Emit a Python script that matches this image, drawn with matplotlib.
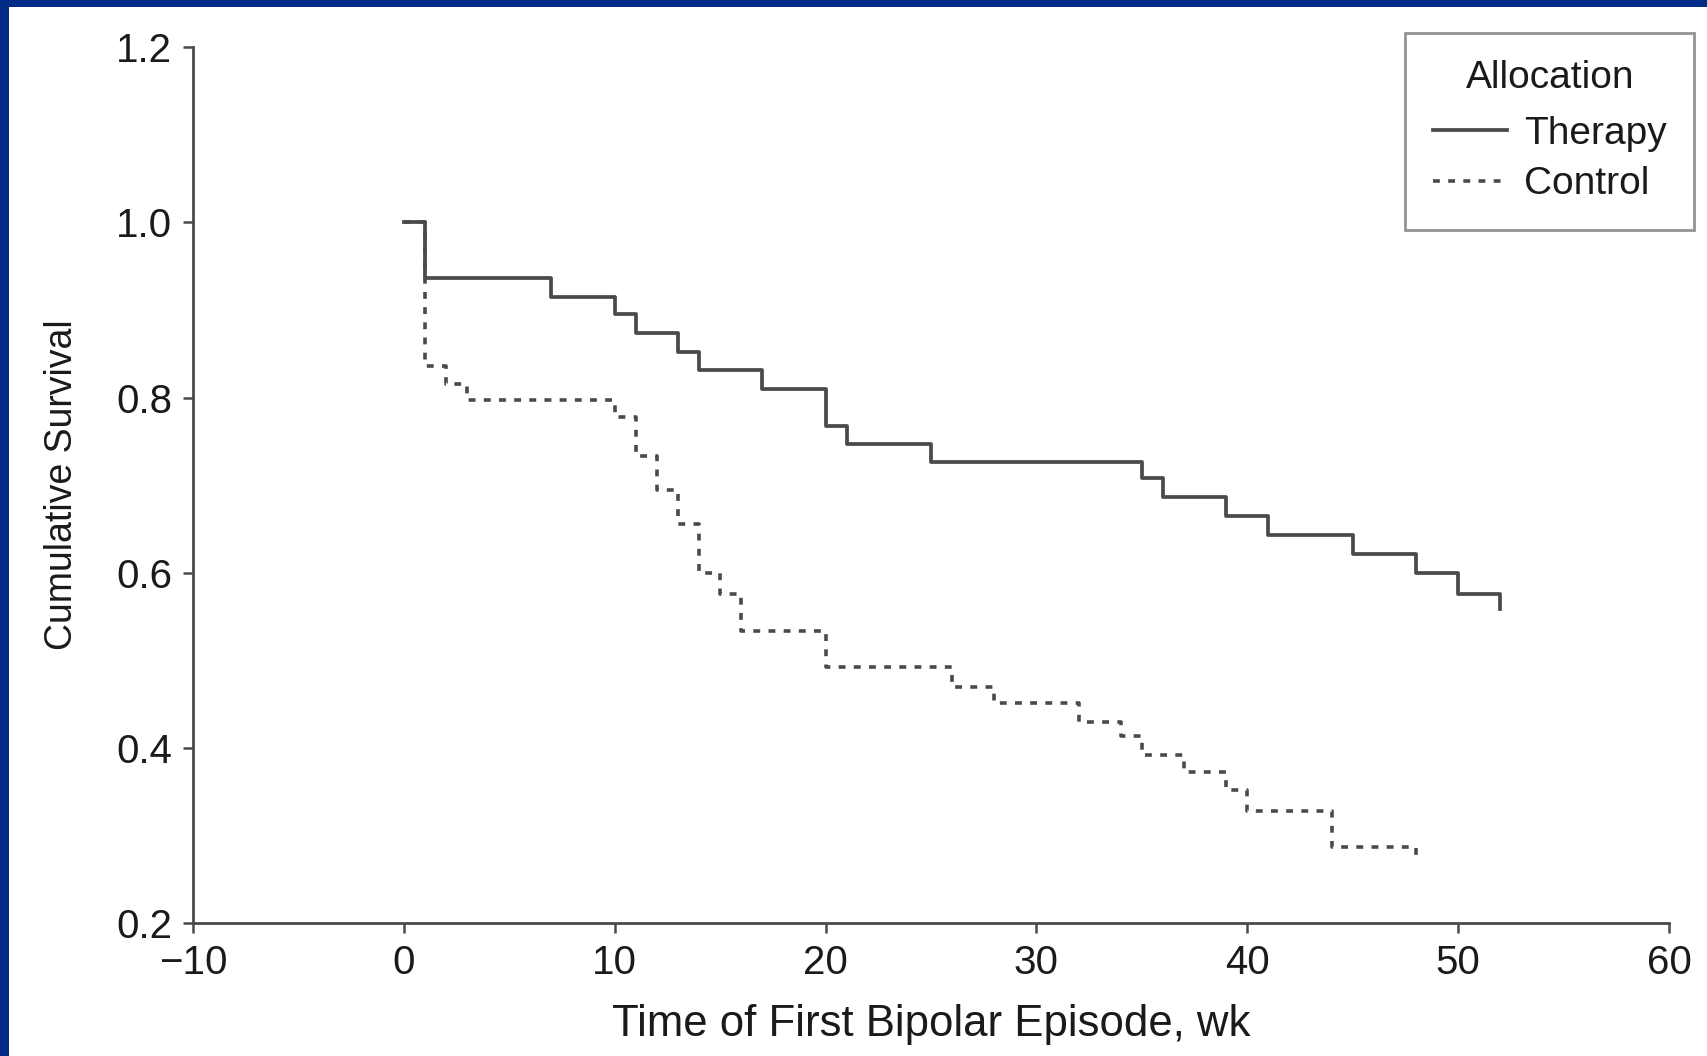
import matplotlib
matplotlib.use("Agg")
import matplotlib.pyplot as plt
from matplotlib.patches import Rectangle

# ---- data ----
therapy_weeks = [0, 1, 7, 10, 11, 13, 14, 17, 20, 21, 25, 35, 36, 39, 41, 45, 48, 50, 52]
therapy_surv = [1.0, 0.937, 0.915, 0.895, 0.874, 0.852, 0.831, 0.810, 0.768, 0.747,
                0.727, 0.708, 0.686, 0.665, 0.643, 0.621, 0.600, 0.576, 0.559]

control_weeks = [0, 1, 2, 3, 10, 11, 12, 13, 14, 15, 16, 20, 26, 28, 32, 34, 35, 37, 39, 40, 44, 48]
control_surv = [1.0, 0.836, 0.816, 0.797, 0.778, 0.733, 0.695, 0.656, 0.600, 0.576, 0.533,
                0.492, 0.470, 0.451, 0.430, 0.413, 0.392, 0.373, 0.352, 0.328, 0.287, 0.272]

x_ticks = [-10, 0, 10, 20, 30, 40, 50, 60]
x_tick_labels = ["\u221210", "0", "10", "20", "30", "40", "50", "60"]
y_ticks = [0.2, 0.4, 0.6, 0.8, 1.0, 1.2]
y_tick_labels = ["0.2", "0.4", "0.6", "0.8", "1.0", "1.2"]

series_labels = ["Therapy", "Control"]
legend_title = "Allocation"
x_label = "Time of First Bipolar Episode, wk"
y_label = "Cumulative Survival"

# ---- style ----
plt.rcParams['font.family'] = ['Liberation Sans', 'DejaVu Sans']
line_col = "#4a4a4a"
text_col = "#1a1a1a"
navy = "#002B87"

W, H = 1707, 1056
fig = plt.figure(figsize=(W / 100, H / 100), dpi=100)
fig.patch.set_facecolor("white")

ax = fig.add_axes([193 / W, 1 - 923 / H, (1669 - 193) / W, (923 - 47.3) / H])

ax.step(control_weeks, control_surv, where="post", color=line_col, lw=2.6,
        linestyle=(0, (1.9, 2.3)), label=series_labels[1], zorder=2)
ax.step(therapy_weeks, therapy_surv, where="post", color=line_col, lw=2.7,
        linestyle="-", label=series_labels[0], zorder=3)

ax.set_xlim(-10, 60)
ax.set_ylim(0.2, 1.2)
ax.set_xticks(x_ticks)
ax.set_xticklabels(x_tick_labels)
ax.set_yticks(y_ticks)
ax.set_yticklabels(y_tick_labels)

for s in ["top", "right"]:
    ax.spines[s].set_visible(False)
for s in ["left", "bottom"]:
    ax.spines[s].set_color(line_col)
    ax.spines[s].set_linewidth(2.0)

ax.tick_params(axis="both", direction="out", length=7, width=1.8, color=line_col,
               labelsize=29, labelcolor=text_col, pad=8)

ax.set_xlabel(x_label, fontsize=31.5, color=text_col, labelpad=16)
ax.set_ylabel(y_label, fontsize=27, color=text_col, labelpad=26)

handles, labels = ax.get_legend_handles_labels()
order = [labels.index(series_labels[0]), labels.index(series_labels[1])]
leg = ax.legend([handles[i] for i in order], [labels[i] for i in order],
                title=legend_title, loc="upper right",
                bbox_to_anchor=(1694 / W, 1 - 33 / H), bbox_transform=fig.transFigure,
                fontsize=28, title_fontsize=28, frameon=True, fancybox=False,
                borderaxespad=0, handlelength=1.9, handletextpad=0.45,
                borderpad=0.7, labelspacing=0.38)
leg.get_frame().set_edgecolor("#777777")
leg.get_frame().set_linewidth(2.0)
leg._legend_box.sep = 14
for t in leg.get_texts():
    t.set_color(text_col)
leg.get_title().set_color(text_col)

# navy frame (top and left edges)
fig.patches.append(Rectangle((0, 1 - 7 / H), 1, 7 / H, transform=fig.transFigure,
                             facecolor=navy, edgecolor="none", zorder=10))
fig.patches.append(Rectangle((0, 0), 8.5 / W, 1, transform=fig.transFigure,
                             facecolor=navy, edgecolor="none", zorder=10))

fig.savefig("out.png", dpi=100, facecolor="white")
